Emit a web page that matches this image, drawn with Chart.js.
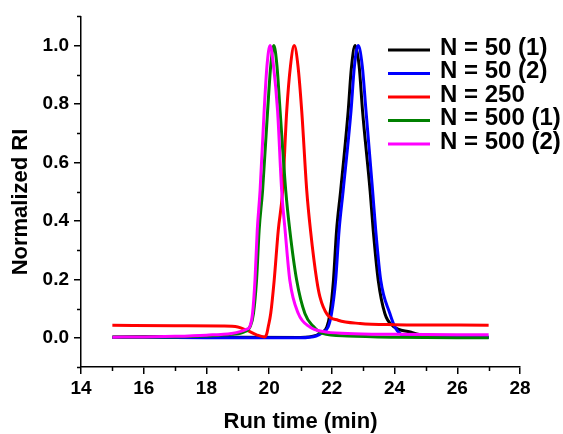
<!DOCTYPE html>
<html>
<head>
<meta charset="utf-8">
<script src="https://cdn.jsdelivr.net/npm/chart.js@4.4.1/dist/chart.umd.min.js"></script>
<style>
  html, body { margin: 0; padding: 0; background: #fff; }
</style>
</head>
<body>
<canvas id="gpcChart" width="563" height="434"></canvas>
<script>
    // Tick values
    const xTicks = [14, 16, 18, 20, 22, 24, 26, 28];
    const xMinor = [15, 17, 19, 21, 23, 25, 27];
    const yTicks = [0, 0.2, 0.4, 0.6, 0.8, 1.0];
    const yMinor = [-0.1, 0.1, 0.3, 0.5, 0.7, 0.9, 1.1];

    const seriesNames = ['N = 50 (1)', 'N = 50 (2)', 'N = 250', 'N = 500 (1)', 'N = 500 (2)'];
    const seriesColors = ['#000000', '#0000ff', '#ff0000', '#008000', '#ff00ff'];

    // N = 50 (1)
    const n50aTime = [15, 17, 19, 21, 21.5, 21.7, 21.84, 21.94, 22.05, 22.15, 22.28, 22.52, 22.62, 22.74, 22.87, 22.98, 23.22, 23.32, 23.48, 23.69, 23.95, 24.5, 25.0, 26, 27];
    const n50aRI = [0.003, 0.004, 0.002, 0.001, 0.008, 0.02, 0.037, 0.083, 0.196, 0.367, 0.503, 0.775, 0.92, 1.0, 0.93, 0.775, 0.503, 0.367, 0.196, 0.083, 0.04, 0.02, 0.007, 0.003, 0.002];

    // N = 50 (2)
    const n50bTime = [15, 17, 19, 21, 21.5, 21.7, 21.88, 21.99, 22.12, 22.23, 22.36, 22.61, 22.72, 22.84, 22.97, 23.09, 23.3, 23.4, 23.56, 23.85, 24.01, 24.2, 24.5, 25.5, 27];
    const n50bRI = [0.001, 0.001, 0.0, 0.0, 0.006, 0.018, 0.037, 0.083, 0.196, 0.367, 0.503, 0.775, 0.93, 1.0, 0.93, 0.775, 0.503, 0.367, 0.196, 0.083, 0.037, 0.012, 0.004, 0.002, 0.002];

    // N = 250
    const n250Time = [15, 17, 18.5, 19.0, 19.3, 19.6, 19.85, 19.92, 19.97, 20.05, 20.16, 20.29, 20.43, 20.56, 20.68, 20.8, 20.92, 21.04, 21.2, 21.32, 21.52, 21.62, 21.85, 22.2, 22.9, 24, 27];
    const n250RI = [0.043, 0.041, 0.04, 0.037, 0.025, 0.01, 0.003, 0.012, 0.037, 0.083, 0.196, 0.367, 0.503, 0.775, 0.93, 1.0, 0.93, 0.775, 0.503, 0.367, 0.196, 0.14, 0.08, 0.06, 0.049, 0.045, 0.043];

    // N = 500 (1)
    const n500aTime = [15, 17, 18, 18.8, 19.2, 19.4, 19.5, 19.6, 19.68, 19.79, 19.95, 20.05, 20.15, 20.25, 20.35, 20.53, 20.66, 20.88, 21.14, 21.4, 21.7, 22.5, 24, 27];
    const n500aRI = [0.002, 0.003, 0.006, 0.012, 0.02, 0.04, 0.083, 0.2, 0.367, 0.503, 0.775, 0.93, 1.0, 0.93, 0.775, 0.503, 0.367, 0.196, 0.083, 0.04, 0.015, 0.006, 0.002, 0.0];

    // N = 500 (2)
    const n500bTime = [15, 16, 17, 18, 18.8, 19.1, 19.3, 19.38, 19.47, 19.55, 19.62, 19.71, 19.84, 19.93, 20.03, 20.14, 20.27, 20.4, 20.51, 20.66, 20.93, 21.3, 21.7, 22.5, 24, 27];
    const n500bRI = [0.002, 0.003, 0.005, 0.009, 0.015, 0.022, 0.03, 0.037, 0.083, 0.2, 0.367, 0.503, 0.775, 0.93, 1.0, 0.93, 0.775, 0.503, 0.367, 0.196, 0.083, 0.037, 0.022, 0.015, 0.012, 0.01];

    const seriesTimes = [n50aTime, n50bTime, n250Time, n500aTime, n500bTime];
    const seriesValues = [n50aRI, n50bRI, n250RI, n500aRI, n500bRI];

    const fontFamily = '"Liberation Sans", Arial, sans-serif';

    function toPoints(times, values) {
        return times.map((t, i) => ({ x: t, y: values[i] }));
    }

    // Minor ticks (shorter than the major ones)
    const minorTicks = {
        id: 'minorTicks',
        afterDraw(chart) {
            const { ctx, chartArea, scales } = chart;
            ctx.save();
            ctx.strokeStyle = '#000';
            ctx.lineWidth = 1.5;
            ctx.beginPath();
            xMinor.forEach(v => {
                const px = Math.round(scales.x.getPixelForValue(v)) + 0.5;
                ctx.moveTo(px, chartArea.bottom);
                ctx.lineTo(px, chartArea.bottom + 4);
            });
            yMinor.forEach(v => {
                const py = Math.round(scales.y.getPixelForValue(v)) + 0.5;
                ctx.moveTo(chartArea.left, py);
                ctx.lineTo(chartArea.left - 4, py);
            });
            ctx.stroke();
            ctx.restore();
        }
    };

    // Y title and legend inside the plot
    const extras = {
        id: 'extras',
        afterDraw(chart) {
            const { ctx } = chart;
            ctx.save();
            ctx.fillStyle = '#000';
            ctx.font = 'bold 22px ' + fontFamily;
            ctx.textAlign = 'center';
            ctx.textBaseline = 'middle';
            ctx.translate(21, 202);
            ctx.rotate(-Math.PI / 2);
            ctx.fillText('Normalized RI', 0, 0);
            ctx.restore();

            ctx.save();
            ctx.font = 'bold 24px ' + fontFamily;
            ctx.textAlign = 'left';
            ctx.textBaseline = 'alphabetic';
            seriesNames.forEach((name, i) => {
                const y = 50 + 23.5 * i;
                ctx.strokeStyle = seriesColors[i];
                ctx.lineWidth = 3;
                ctx.beginPath();
                ctx.moveTo(388, y);
                ctx.lineTo(430, y);
                ctx.stroke();
                ctx.fillStyle = '#000';
                ctx.fillText(name, 440, y + 4.5);
            });
            ctx.restore();
        }
    };

    const ctx = document.getElementById('gpcChart').getContext('2d');
    new Chart(ctx, {
        type: 'line',
        data: {
            datasets: seriesNames.map((name, i) => ({
                label: name,
                data: toPoints(seriesTimes[i], seriesValues[i]),
                borderColor: seriesColors[i],
                backgroundColor: seriesColors[i],
                borderWidth: 3,
                pointRadius: 0,
                fill: false,
                cubicInterpolationMode: 'monotone',
                order: seriesNames.length - i
            }))
        },
        options: {
            responsive: false,
            devicePixelRatio: 1,
            animation: false,
            layout: { padding: { top: 15, right: 43, left: 0, bottom: 0 } },
            plugins: {
                legend: { display: false },
                tooltip: { enabled: false }
            },
            scales: {
                x: {
                    type: 'linear',
                    min: 14,
                    max: 28,
                    afterBuildTicks: s => { s.ticks = xTicks.map(v => ({ value: v })); },
                    afterFit: s => { s.height = 67; },
                    ticks: {
                        font: { family: fontFamily, size: 19, weight: 'bold' },
                        color: '#000',
                        padding: 3,
                        maxRotation: 0,
                        autoSkip: false
                    },
                    grid: { drawOnChartArea: false, drawTicks: true, tickLength: 7, color: '#000', lineWidth: 1.5 },
                    border: { color: '#000', width: 1.5 },
                    title: {
                        display: true,
                        text: 'Run time (min)',
                        color: '#000',
                        font: { family: fontFamily, size: 22, weight: 'bold', lineHeight: 1 },
                        padding: { top: 0, bottom: 1 }
                    }
                },
                y: {
                    min: -0.1,
                    max: 1.1,
                    afterBuildTicks: s => { s.ticks = yTicks.map(v => ({ value: v })); },
                    afterFit: s => { s.width = 81; },
                    ticks: {
                        font: { family: fontFamily, size: 19, weight: 'bold' },
                        color: '#000',
                        padding: 5,
                        callback: v => Number(v).toFixed(1)
                    },
                    grid: { drawOnChartArea: false, drawTicks: true, tickLength: 7, color: '#000', lineWidth: 1.5 },
                    border: { color: '#000', width: 1.5 }
                }
            }
        },
        plugins: [minorTicks, extras]
    });
</script>
</body>
</html>
